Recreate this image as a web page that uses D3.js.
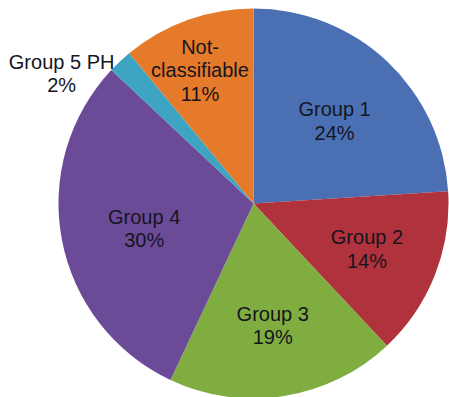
<!DOCTYPE html>
<html>
<head>
<meta charset="utf-8">
<script src="https://cdn.jsdelivr.net/npm/d3@7"></script>
<style>
  html, body { margin: 0; padding: 0; background: #fff; }
  svg { display: block; }
</style>
</head>
<body>
<svg id="chart" width="449" height="397"></svg>
<script>
// Data
const categories = ["Group 1", "Group 2", "Group 3", "Group 4", "Group 5 PH", "Not-classifiable"];
const values = [24, 14, 19, 30, 2, 11];
const colors = ["#4A70B3", "#B0323D", "#80AD3F", "#6B4A97", "#3DA5C2", "#E57A2A"];
const labelLines = [["Group 1"], ["Group 2"], ["Group 3"], ["Group 4"], ["Group 5 PH"], ["Not-", "classifiable"]];

const W = 449, H = 397;
const cx = 253.5, cy = 203.5, R = 195;

const svg = d3.select("#chart");
const g = svg.append("g").attr("transform", `translate(${cx},${cy})`);

const pie = d3.pie().value(d => d.value).sort(null);
const data = categories.map((c, i) => ({ name: c, value: values[i], color: colors[i], lines: labelLines[i] }));
const arcs = pie(data);
const total = d3.sum(values);

const arc = d3.arc().innerRadius(0).outerRadius(R);

g.selectAll("path.slice")
  .data(arcs)
  .join("path")
  .attr("class", "slice")
  .attr("d", arc)
  .attr("fill", d => d.data.color);

// label placement (radius and angle offset in radians, per slice)
const labelPlace = {
  "Group 1": { r: 116, da: 0.02 },
  "Group 2": { r: 122, da: 0 },
  "Group 3": { r: 123, da: 0 },
  "Group 4": { r: 112, da: -0.03 },
  "Group 5 PH": { r: 232, da: -0.22 },
  "Not-classifiable": { r: 144, da: -0.035 }
};

const lineH = 23.5;
arcs.forEach(d => {
  const p = labelPlace[d.data.name];
  const a = (d.startAngle + d.endAngle) / 2 + p.da;
  const lx = p.r * Math.sin(a);
  const ly = -p.r * Math.cos(a);
  const lines = d.data.lines.concat([Math.round(d.data.value / total * 100) + "%"]);
  const n = lines.length;
  const t = g.append("text")
    .attr("text-anchor", "middle")
    .attr("font-family", "'Liberation Sans', Arial, sans-serif")
    .attr("font-size", 20)
    .attr("fill", "#15151f");
  lines.forEach((s, i) => {
    t.append("tspan")
      .attr("x", lx)
      .attr("y", ly + (i - (n - 1) / 2) * lineH + 7.5)
      .text(s);
  });
});
</script>
</body>
</html>
